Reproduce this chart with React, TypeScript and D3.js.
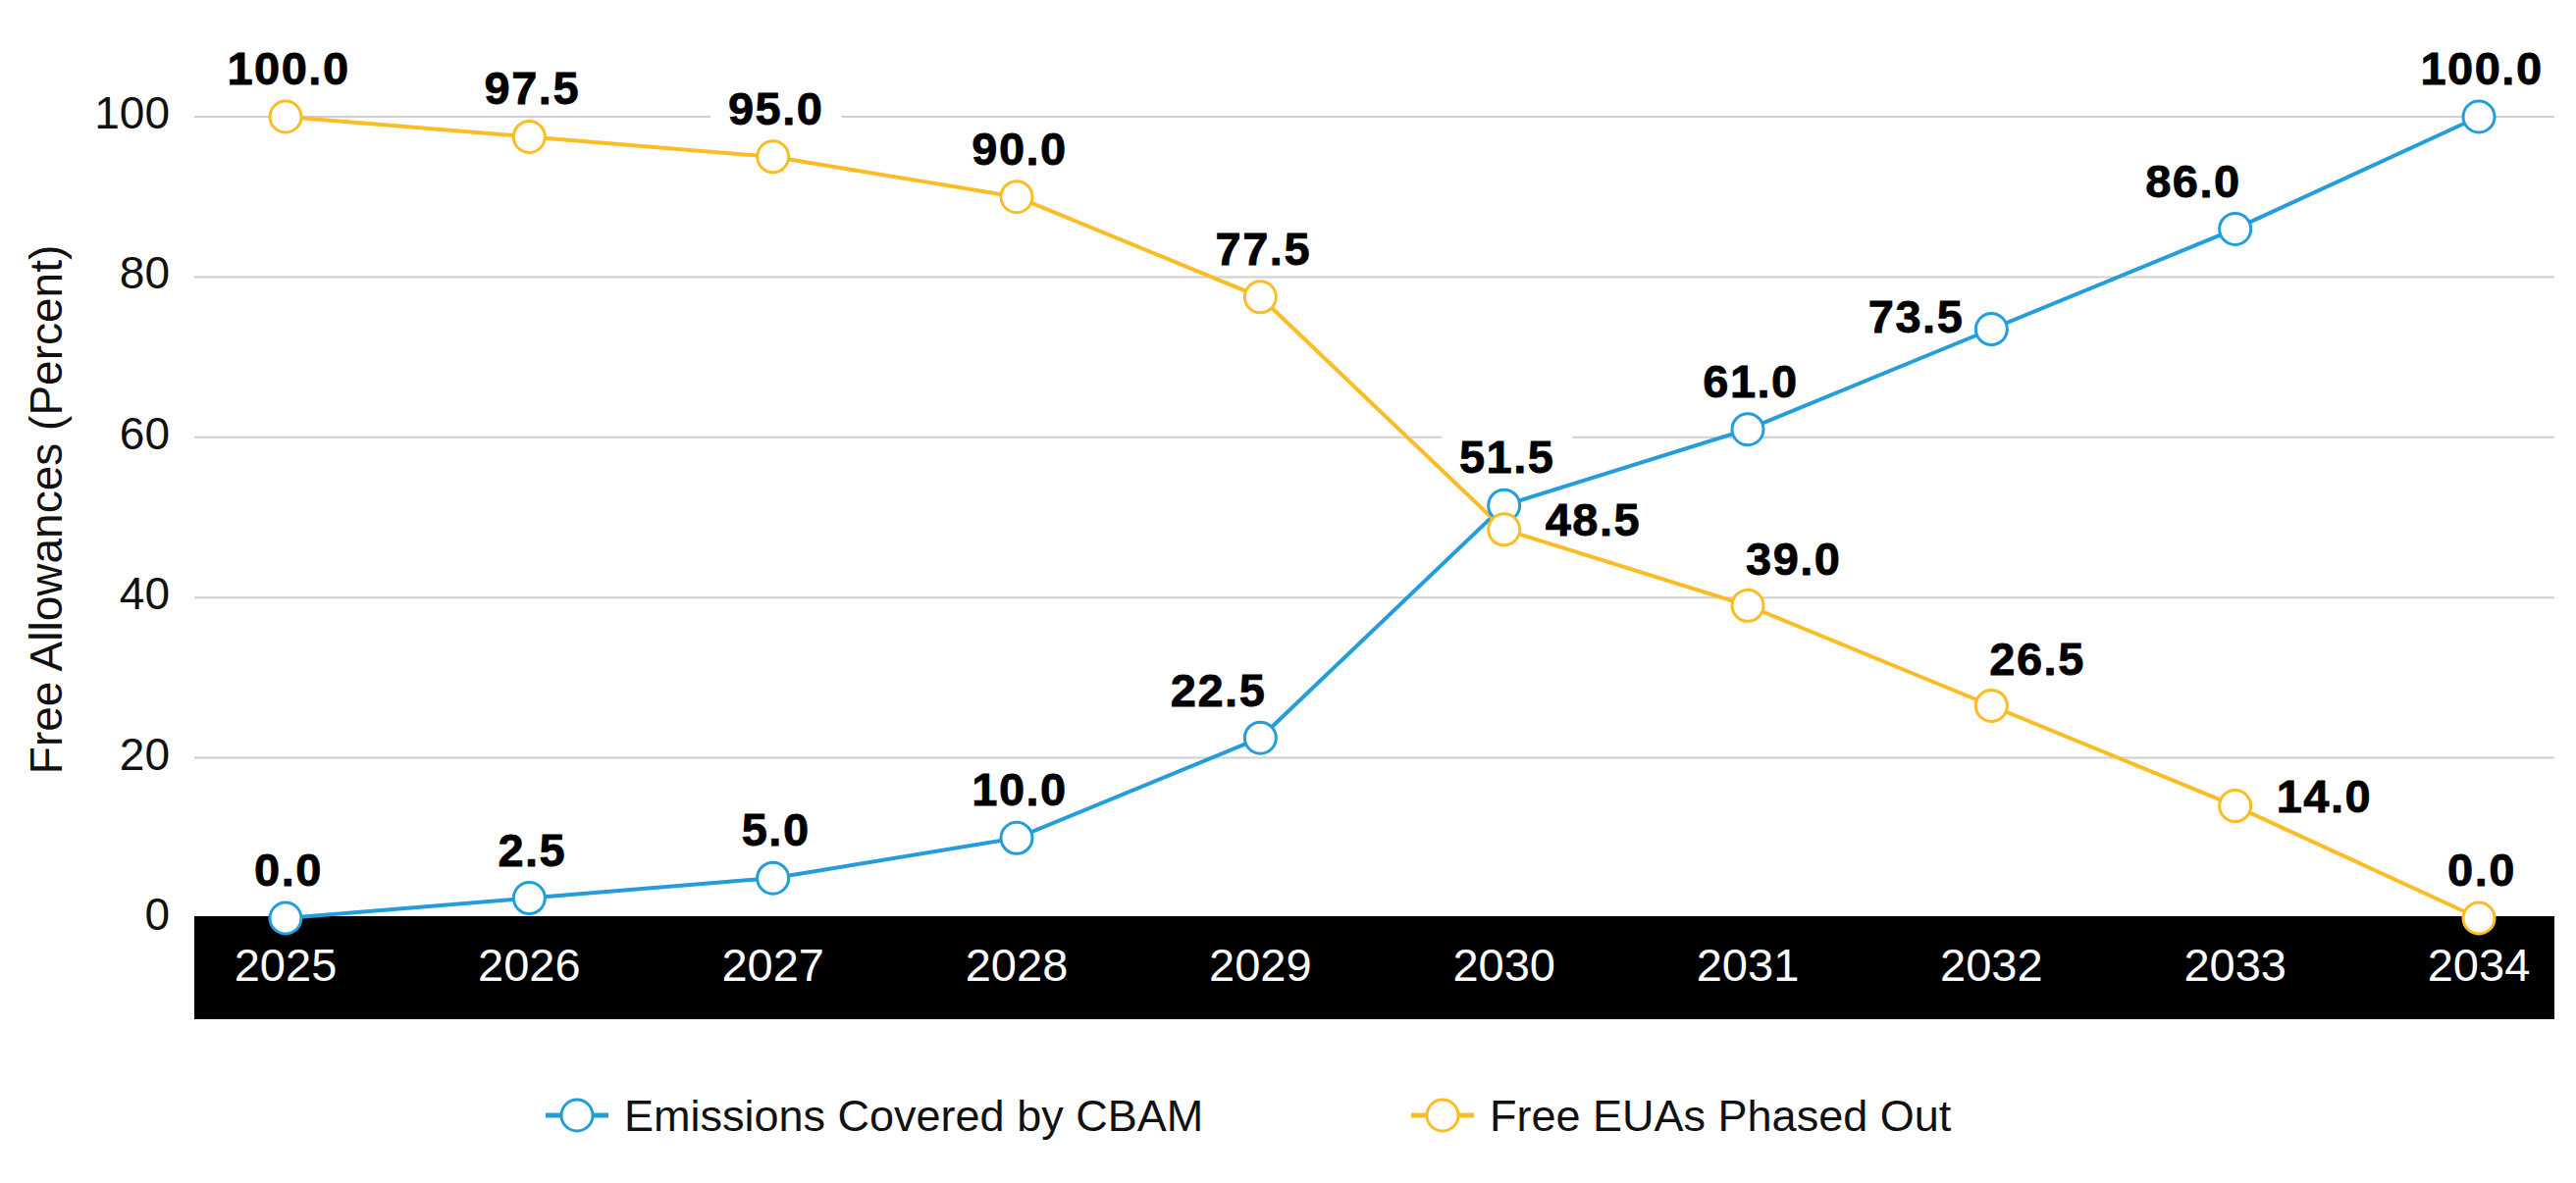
import React from 'react';
import * as d3 from 'd3';

const years = ['2025', '2026', '2027', '2028', '2029', '2030', '2031', '2032', '2033', '2034'];
const cbamValues = [0, 2.5, 5, 10, 22.5, 51.5, 61, 73.5, 86, 100];
const euaValues = [100, 97.5, 95, 90, 77.5, 48.5, 39, 26.5, 14, 0];
const yTicks = [0, 20, 40, 60, 80, 100];
const seriesNames = ['Emissions Covered by CBAM', 'Free EUAs Phased Out'];

// where each value label sits relative to its point
const cbamLabelPlacement = ['top', 'top', 'top', 'top', 'topLeft', 'top', 'top', 'left', 'topLeft', 'top'];
const euaLabelPlacement = ['top', 'top', 'top', 'top', 'top', 'right', 'topRight', 'topRight', 'right', 'top'];

const W = 2625;
const H = 1206;
const FONT = '"Liberation Sans", Arial, Helvetica, sans-serif';
const BLUE = '#239ddb';
const YELLOW = '#fcbc26';

const plot = { left: 198, right: 2603, top: 119, bottom: 936 };
const axisBar = { top: 934, bottom: 1039 };

const placements: Record<string, { anchor: string; dx: number; dy: number }> = {
  top: { anchor: 'middle', dx: 3, dy: -33 },
  topLeft: { anchor: 'end', dx: 6, dy: -32 },
  topRight: { anchor: 'start', dx: -2, dy: -31 },
  left: { anchor: 'end', dx: -28, dy: 3 },
  right: { anchor: 'start', dx: 42, dy: 6 },
};

const labelSize = 47;
const labelSpacing = 1.5;
const labelWidth = (s: string) =>
  s.split('').reduce((w, c) => w + (c === '.' ? 0.278 : 0.556), 0) * labelSize + labelSpacing * s.length;

const x = d3.scalePoint<string>().domain(years).range([plot.left + 93, plot.right - 77]);
const y = d3.scaleLinear().domain([0, 100]).range([plot.bottom, plot.top]);

const line = d3
  .line<number>()
  .x((_, i) => x(years[i]) as number)
  .y(d => y(d));

type Label = { text: string; x: number; y: number; anchor: string; w: number };

const buildLabels = (values: number[], place: string[]): Label[] =>
  values.map((v, i) => {
    const p = placements[place[i]];
    const text = v.toFixed(1);
    return {
      text,
      x: (x(years[i]) as number) + p.dx,
      y: y(v) + p.dy,
      anchor: p.anchor,
      w: labelWidth(text),
    };
  });

const series = [
  { name: seriesNames[0], values: cbamValues, color: BLUE, labels: buildLabels(cbamValues, cbamLabelPlacement) },
  { name: seriesNames[1], values: euaValues, color: YELLOW, labels: buildLabels(euaValues, euaLabelPlacement) },
];

const labelBox = (l: Label) => {
  const left = l.anchor === 'middle' ? l.x - l.w / 2 : l.anchor === 'end' ? l.x - l.w : l.x;
  return { x: left - 18, y: l.y - 40, width: l.w + 36, height: 50 };
};

const legendItems = [
  { x: 556, name: seriesNames[0], color: BLUE },
  { x: 1438, name: seriesNames[1], color: YELLOW },
];
const legendY = 1137;

export default function App() {
  return (
    <svg
      width={W}
      height={H}
      viewBox={`0 0 ${W} ${H}`}
      style={{ position: 'absolute', left: 0, top: 0, background: '#fff' }}
      fontFamily={FONT}
    >
      {/* grid */}
      {yTicks.filter(t => t > 0).map(t => (
        <line key={t} x1={plot.left} x2={plot.right} y1={y(t)} y2={y(t)} stroke="#cfcfcf" strokeWidth={2} />
      ))}

      {/* y tick labels */}
      {yTicks.map(t => (
        <text key={t} x={173} y={y(t) + 12} textAnchor="end" fontSize={46} fill="#111">
          {t}
        </text>
      ))}

      {/* y axis title */}
      <text
        transform={`translate(${63},${(plot.top + plot.bottom) / 2 - 8}) rotate(-90)`}
        textAnchor="middle"
        fontSize={46}
        fill="#111"
      >
        Free Allowances (Percent)
      </text>

      {/* x axis bar */}
      <rect x={plot.left} y={axisBar.top} width={plot.right - plot.left} height={axisBar.bottom - axisBar.top} fill="#000" />
      {years.map(yr => (
        <text key={yr} x={x(yr)} y={1000} textAnchor="middle" fontSize={47} fill="#fff">
          {yr}
        </text>
      ))}

      {/* label halos */}
      {series.map(s =>
        s.labels.map((l, i) => {
          const b = labelBox(l);
          return <rect key={s.name + i} {...b} fill="#fff" />;
        })
      )}

      {/* lines */}
      {series.map(s => (
        <path key={s.name} d={line(s.values) || ''} fill="none" stroke={s.color} strokeWidth={4} />
      ))}

      {/* markers */}
      {series.map(s =>
        s.values.map((v, i) => (
          <circle key={s.name + i} cx={x(years[i])} cy={y(v)} r={16} fill="#fff" stroke={s.color} strokeWidth={3} />
        ))
      )}

      {/* value labels */}
      {series.map(s =>
        s.labels.map((l, i) => (
          <text
            key={s.name + i}
            x={l.x}
            y={l.y}
            textAnchor={l.anchor}
            fontSize={labelSize}
            fontWeight="bold"
            letterSpacing={labelSpacing}
            fill="#000"
            stroke="#000"
            strokeWidth={0.8}
          >
            {l.text}
          </text>
        ))
      )}

      {/* legend */}
      {legendItems.map(item => (
        <g key={item.name} transform={`translate(${item.x},${legendY})`}>
          <line x1={0} x2={64} y1={0} y2={0} stroke={item.color} strokeWidth={5} />
          <circle cx={32} cy={0} r={16} fill="#fff" stroke={item.color} strokeWidth={3} />
          <text x={80} y={16} fontSize={45} fill="#111">
            {item.name}
          </text>
        </g>
      ))}
    </svg>
  );
}
